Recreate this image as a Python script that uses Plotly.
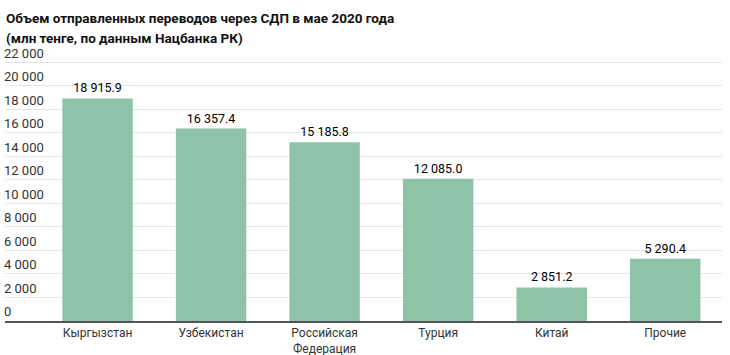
import plotly.graph_objects as go

categories = ["Кыргызстан", "Узбекистан", "Российская<br>Федерация", "Турция", "Китай", "Прочие"]
values = [18915.9, 16357.4, 15185.8, 12085.0, 2851.2, 5290.4]
y_ticks = [0, 2000, 4000, 6000, 8000, 10000, 12000, 14000, 16000, 18000, 20000, 22000]
title_lines = ["Объем отправленных переводов через СДП в мае 2020 года",
               "(млн тенге, по данным Нацбанка РК)"]

fig = go.Figure(go.Bar(
    x=categories, y=values,
    marker=dict(color="#8ec3a7", line=dict(width=0)),
    texttemplate="%{y:,.1f}", textposition="outside",
    textfont=dict(family="Roboto", size=12.5, color="#000000"),
    cliponaxis=False,
))

fig.update_layout(
    width=730, height=355,
    margin=dict(l=5, r=8, t=48, b=34, autoexpand=False),
    plot_bgcolor="white", paper_bgcolor="white",
    separators=". ",
    bargap=0.38,
    showlegend=False,
    font=dict(family="Roboto", size=12, color="#333333"),
)
for i, line in enumerate(title_lines):
    fig.add_annotation(
        text="<b>" + line + "</b>", xref="paper", yref="paper",
        x=-0.002, xanchor="left", y=1 + (48 - 8 - 20 * i) / 273, yanchor="top",
        showarrow=False, font=dict(family="Roboto", size=13.5, color="#111111"),
    )
fig.update_xaxes(
    range=[-0.815, 5.5], showgrid=False, showline=True, linecolor="#555555", linewidth=2,
    ticks="", ticklabelstandoff=0, automargin=False,
    tickfont=dict(size=12, color="#333333"),
)
fig.update_yaxes(
    range=[0, 23200], tickvals=y_ticks, tickformat=",d",
    ticklabelposition="inside top", ticklabeloverflow="allow", ticklen=0,
    ticklabelstandoff=-4,
    showgrid=True, gridcolor="#e6e6e6", gridwidth=1, automargin=False,
    zeroline=False, showline=False, ticks="",
    tickfont=dict(size=13, color="#333333"),
)

fig.write_html("out.html", config={"displayModeBar": False})
with open("out.html", encoding="utf-8") as f:
    html = f.read()
html = html.replace("<body>", '<body style="margin:0;padding:0;overflow:hidden">', 1)
with open("out.html", "w", encoding="utf-8") as f:
    f.write(html)
